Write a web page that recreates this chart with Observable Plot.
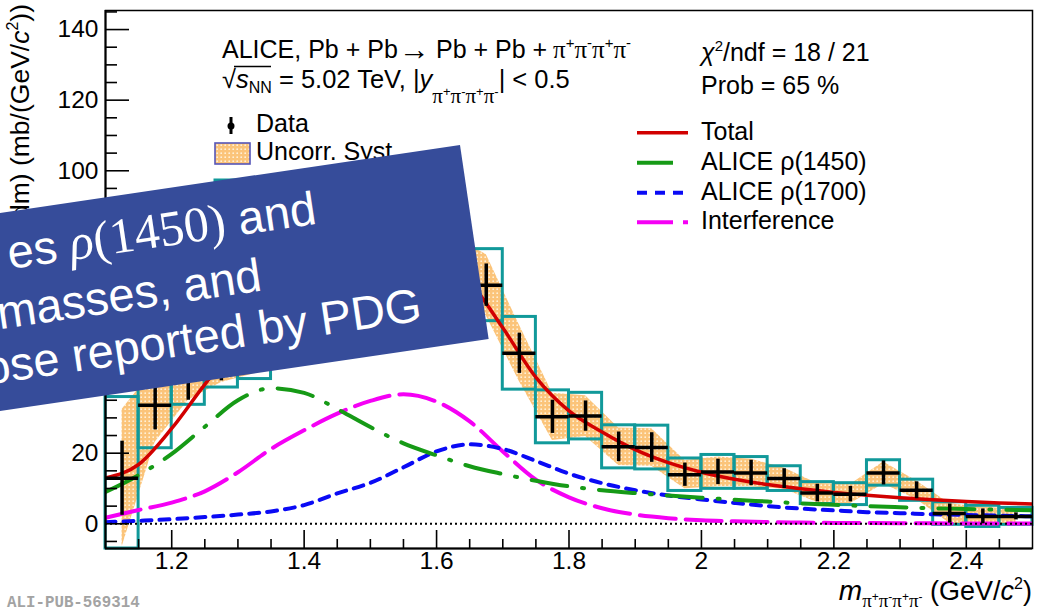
<!DOCTYPE html>
<html>
<head>
<meta charset="utf-8">
<script src="https://cdn.jsdelivr.net/npm/d3@7"></script>
<script src="https://cdn.jsdelivr.net/npm/@observablehq/plot@0.6"></script>
<style>
  html, body { margin: 0; padding: 0; background: #fff; overflow: hidden; }
  #chart { width: 1043px; height: 612px; }
</style>
</head>
<body>
<div id="chart"></div>
<script>
// Measured spectrum: bin centres (GeV/c^2), bins are 0.05 wide
const massBins = [1.125, 1.175, 1.225, 1.275, 1.325, 1.375, 1.425, 1.475, 1.525, 1.575,
                  1.625, 1.675, 1.725, 1.775, 1.825, 1.875, 1.925, 1.975, 2.025, 2.075,
                  2.125, 2.175, 2.225, 2.275, 2.325, 2.375, 2.425, 2.475];
const crossSection = [12.9, 33.6, 42, 47, 51, 63, 70, 73, 75, 76,
                      72, 67.6, 48.3, 30.3, 30.5, 21.8, 21.6, 13.9, 14.7, 14.4,
                      12.8, 8.7, 8.4, 14.4, 9.5, 2.9, 2.1, 2.1];
const statError = [10.5, 7, 7, 6.5, 6.5, 7, 7, 7, 7, 7,
                   7, 6, 5.7, 4.7, 4.3, 4.2, 4.2, 3.3, 3.6, 3.6,
                   2.8, 2.5, 2.2, 3.4, 2.4, 2.7, 2.1, 1.0];
const uncorrSyst = [19.5, 10.5, 7, 7, 8.5, 8.5, 9, 9.3, 9.7, 9.7,
                    9.3, 8.7, 8, 6.7, 5.8, 5.3, 5.3, 4, 4.2, 3.9,
                    3, 2.7, 2.7, 3.1, 2.6, 2.8, 2.6, 2];
const totalSyst = [23, 12.2, 8.3, 8.4, 10, 10, 10.5, 11, 11.5, 11.5,
                   11, 10.2, 10.3, 7.5, 6.6, 6.1, 6.2, 4.6, 4.8, 4.5,
                   3.5, 3.1, 3.1, 3.6, 3.0, 3.2, 3.0, 2.4];

// Fit components sampled along the mass axis
const fitMass = [1.10, 1.15, 1.20, 1.25, 1.30, 1.35, 1.40, 1.45, 1.50, 1.55,
                 1.60, 1.65, 1.70, 1.75, 1.80, 1.85, 1.90, 1.95, 2.00, 2.05,
                 2.10, 2.15, 2.20, 2.25, 2.30, 2.35, 2.40, 2.45, 2.50];
const fitTotal = [13, 16.8, 27, 39.5, 51, 62, 68, 72, 74, 76,
                  75, 68.5, 55.5, 41.5, 32, 26, 21, 17.3, 14.6, 12.6,
                  11.1, 9.9, 8.9, 8.1, 7.4, 6.8, 6.3, 5.9, 5.6];
const fitRho1450 = [9.0, 13.8, 19.8, 27.5, 35, 38.4, 37.1, 32.5, 27.4, 22.8,
                    19.4, 16.3, 14.1, 12.2, 10.6, 9.5, 8.7, 8.0, 7.4, 6.8,
                    6.3, 5.8, 5.4, 5.0, 4.7, 4.4, 4.2, 4.0, 3.8];
const fitRho1700 = [0.45, 0.85, 1.3, 1.9, 2.6, 3.5, 5.3, 8.6, 11.6, 16,
                    20.5, 22.5, 21.2, 17.8, 14.2, 11.5, 9.5, 8.0, 6.9, 5.9,
                    5.0, 4.3, 3.8, 3.3, 3.0, 2.7, 2.5, 2.3, 2.1];
const fitInterference = [1.7, 3.9, 6.0, 9.2, 14.6, 21.2, 26.5, 31.2, 34.8, 36.7,
                         34.6, 29, 20.5, 12.5, 7.5, 4.4, 2.6, 1.6, 1.0, 0.7,
                         0.5, 0.35, 0.25, 0.2, 0.15, 0.12, 0.1, 0.08, 0.06];

// Axis ticks
const yMajorTicks = [0, 20, 40, 60, 80, 100, 120, 140];
const yMinorTicks = [-5, 5, 10, 15, 25, 30, 35, 45, 50, 55, 65, 70, 75, 85, 90, 95,
                     105, 110, 115, 125, 130, 135, 145];
const xMajorTicks = [1.2, 1.4, 1.6, 1.8, 2.0, 2.2, 2.4];
const xMinorTicks = [1.15, 1.25, 1.3, 1.35, 1.45, 1.5, 1.55, 1.65, 1.7, 1.75, 1.85, 1.9, 1.95,
                     2.05, 2.1, 2.15, 2.25, 2.3, 2.35, 2.45];
const xTickText = ["1.2", "1.4", "1.6", "1.8", "2", "2.2", "2.4"];

const BIN_HALF = 0.025;
const X_DOMAIN = [1.1, 2.5];
const Y_DOMAIN = [-7, 145.4];

const W = 1043, H = 612;
const M = {left: 105, right: 11, top: 10, bottom: 64};
const frameW = W - M.left - M.right;
const frameH = H - M.top - M.bottom;

const TEAL = "#11999a";
const RED = "#d10000";
const GREEN = "#169a16";
const BLUE = "#0a0af5";
const MAGENTA = "#f500f5";
const FONT = "'Liberation Sans', Arial, Helvetica, sans-serif";
const SERIF = "'Liberation Serif', 'Times New Roman', serif";

const bins = massBins.map((m, i) => ({
  m, v: crossSection[i], stat: statError[i], unc: uncorrSyst[i], syst: totalSyst[i]
}));
const fit = fitMass.map((m, i) => ({
  m, total: fitTotal[i], r1450: fitRho1450[i], r1700: fitRho1700[i], intf: fitInterference[i]
}));

const chart = Plot.plot({
  width: W, height: H,
  marginLeft: M.left, marginRight: M.right, marginTop: M.top, marginBottom: M.bottom,
  style: {fontFamily: FONT, background: "white", color: "black"},
  x: {domain: X_DOMAIN, axis: null},
  y: {domain: Y_DOMAIN, axis: null},
  marks: [
    // uncorrelated systematic band
    Plot.areaY(bins, {x: "m", y1: d => d.v - d.unc, y2: d => d.v + d.unc,
      fill: "url(#uncorrDots)", curve: "linear", clip: true}),
    // total systematic boxes
    Plot.rect(bins, {x1: d => d.m - BIN_HALF, x2: d => d.m + BIN_HALF,
      y1: d => Math.max(d.v - d.syst, Y_DOMAIN[0]), y2: d => d.v + d.syst,
      fill: "none", stroke: TEAL, strokeWidth: 3}),
    // fit components
    Plot.line(fit, {x: "m", y: "intf", stroke: MAGENTA, strokeWidth: 4,
      strokeDasharray: "36,10", curve: "monotone-x", clip: true}),
    Plot.line(fit, {x: "m", y: "r1700", stroke: BLUE, strokeWidth: 4,
      strokeDasharray: "10,8", curve: "monotone-x", clip: true}),
    Plot.line(fit, {x: "m", y: "r1450", stroke: GREEN, strokeWidth: 4,
      strokeDasharray: "36,15,2,15", curve: "monotone-x", clip: true}),
    Plot.line(fit, {x: "m", y: "total", stroke: RED, strokeWidth: 3.5,
      curve: "monotone-x", clip: true}),
    // zero line
    Plot.ruleY([0], {stroke: "black", strokeWidth: 2, strokeDasharray: "2,3"}),
    // data points with statistical errors
    Plot.ruleX(bins, {x: "m", y1: d => d.v - d.stat, y2: d => d.v + d.stat,
      stroke: "black", strokeWidth: 3.5}),
    Plot.ruleY(bins, {y: "v", x1: d => d.m - BIN_HALF, x2: d => d.m + BIN_HALF,
      stroke: "black", strokeWidth: 3.5}),
    // frame and axes
    Plot.frame({stroke: "black", strokeWidth: 1.5}),
    Plot.ruleX([X_DOMAIN[0]], {stroke: "black", strokeWidth: 2}),
    Plot.ruleY([Y_DOMAIN[0]], {stroke: "black", strokeWidth: 2}),
    Plot.ruleY(yMajorTicks, {y: d => d, insetRight: frameW - 24, stroke: "black", strokeWidth: 1.6}),
    Plot.ruleY(yMinorTicks, {y: d => d, insetRight: frameW - 12, stroke: "black", strokeWidth: 1.6}),
    Plot.ruleX(xMajorTicks, {x: d => d, insetTop: frameH - 18, stroke: "black", strokeWidth: 1.6}),
    Plot.ruleX(xMinorTicks, {x: d => d, insetTop: frameH - 9, stroke: "black", strokeWidth: 1.6}),
    Plot.text(yMajorTicks, {y: d => d, text: d => String(d), frameAnchor: "left",
      textAnchor: "end", dx: -7, fontSize: 24.5, fill: "black"}),
    Plot.text(xMajorTicks, {x: d => d, text: (d, i) => xTickText[i], frameAnchor: "bottom",
      dy: 20, fontSize: 24.5, fill: "black"})
  ]
});

document.getElementById("chart").appendChild(chart);

const svg = d3.select(chart);

// dotted orange fill used for the uncorrelated systematics
const defs = svg.insert("defs", ":first-child");
const pat = defs.append("pattern").attr("id", "uncorrDots")
  .attr("patternUnits", "userSpaceOnUse").attr("width", 4).attr("height", 4);
pat.append("rect").attr("width", 4).attr("height", 4).attr("fill", "#fbc47a");
pat.append("circle").attr("cx", 1.2).attr("cy", 1.2).attr("r", 0.9).attr("fill", "#fff1da");

// text with sub/superscripts: parts carry a baseline shift in px and an optional fixed x
function rich(x, y, parts, opts = {}) {
  const t = svg.append("text").attr("x", x).attr("y", y)
    .attr("font-family", opts.family || FONT).attr("font-size", opts.size || 25)
    .attr("fill", opts.fill || "black")
    .attr("text-anchor", opts.anchor || "start");
  if (opts.transform) t.attr("transform", opts.transform);
  let cur = 0;
  for (const p of parts) {
    const s = t.append("tspan").text(p.t);
    const shift = p.shift || 0;
    if (shift !== cur) { s.attr("dy", shift - cur); cur = shift; }
    if (p.x != null) s.attr("x", p.x);
    if (p.size) s.attr("font-size", p.size);
    if (p.italic) s.attr("font-style", "italic");
    if (p.family) s.attr("font-family", p.family);
  }
  return t;
}

const pi = (size, supSize, base, supShift, sign) => [
  {t: "π", family: SERIF, size, shift: base},
  {t: sign, size: supSize, shift: supShift}
];

// process label
rich(222, 58, [
  {t: "ALICE, Pb + Pb"}, {t: "→", size: 31, shift: 2, x: 399}, {t: "Pb + Pb +", shift: 0, x: 436},
  {t: "π", family: SERIF, size: 25, x: 553}, {t: "+", size: 15, shift: -10},
  ...pi(25, 15, 0, -10, "-"), ...pi(25, 15, 0, -10, "+"), ...pi(25, 15, 0, -10, "-")
]);
rich(222, 88, [
  {t: "√"}, {t: "s", italic: true}, {t: "NN", size: 16, shift: 5},
  {t: " = 5.02 TeV, |", shift: 0}, {t: "y", italic: true},
  ...pi(21, 13, 15, 8, "+"), ...pi(21, 13, 15, 8, "-"),
  ...pi(21, 13, 15, 8, "+"), ...pi(21, 13, 15, 8, "-"),
  {t: "| < 0.5", shift: 0}
], {size: 25.5});
svg.append("line").attr("x1", 234).attr("x2", 271).attr("y1", 66.5).attr("y2", 66.5)
  .attr("stroke", "black").attr("stroke-width", 1.4);

// fit quality
rich(701, 61, [{t: "χ", italic: true}, {t: "2", size: 15, shift: -10}, {t: "/ndf = 18 / 21", shift: 0}]);
rich(701, 94, [{t: "Prob = 65 %"}]);

// legend: data and systematics
svg.append("line").attr("x1", 231).attr("x2", 231).attr("y1", 117).attr("y2", 134)
  .attr("stroke", "black").attr("stroke-width", 3);
svg.append("circle").attr("cx", 231).attr("cy", 126).attr("r", 3.5).attr("fill", "black");
rich(256, 132, [{t: "Data"}]);
svg.append("rect").attr("x", 215).attr("y", 143).attr("width", 35).attr("height", 21)
  .attr("fill", "url(#uncorrDots)").attr("stroke", "#5656b8").attr("stroke-width", 1.6);
rich(256, 160, [{t: "Uncorr. Syst."}]);
svg.append("rect").attr("x", 215).attr("y", 180).attr("width", 35).attr("height", 21)
  .attr("fill", "none").attr("stroke", TEAL).attr("stroke-width", 3);
rich(256, 195, [{t: "Total Syst."}]);

// legend: fit components
const legendRows = [
  {label: "Total", color: RED, dash: null, width: 3.5, y: 132.7},
  {label: "ALICE ρ(1450)", color: GREEN, dash: "36,15,2,15", width: 4, y: 162.7},
  {label: "ALICE ρ(1700)", color: BLUE, dash: "10,8", width: 4, y: 192.7},
  {label: "Interference", color: MAGENTA, dash: "36,10", width: 4, y: 222.3}
];
for (const r of legendRows) {
  const l = svg.append("line").attr("x1", 637).attr("x2", 688).attr("y1", r.y).attr("y2", r.y)
    .attr("stroke", r.color).attr("stroke-width", r.width);
  if (r.dash) l.attr("stroke-dasharray", r.dash);
  rich(701, r.y + 7, [{t: r.label}]);
}

// axis titles
rich(0, 0, [
  {t: "d"}, {t: "2", size: 16, shift: -11}, {t: "σ/(d", shift: 0}, {t: "y", italic: true},
  {t: " dm) (mb/(GeV/"}, {t: "c", italic: true}, {t: "2", size: 16, shift: -11}, {t: "))", shift: 0}
], {size: 26.5, anchor: "end", transform: "translate(29,4) rotate(-90)"});

rich(1032, 600, [
  {t: "m", italic: true, size: 28},
  {t: "π", family: SERIF, size: 19, shift: 7}, {t: "+", size: 12, shift: 1},
  ...pi(19, 12, 7, 1, "-"), ...pi(19, 12, 7, 1, "+"), ...pi(19, 12, 7, 1, "-"),
  {t: " (GeV/", shift: 0}, {t: "c", italic: true}, {t: "2", size: 16, shift: -11}, {t: ")", shift: 0}
], {size: 27, anchor: "end"});

svg.append("text").attr("x", 7).attr("y", 607).attr("text-anchor", "start")
  .attr("font-family", "'Liberation Mono', 'DejaVu Sans Mono', monospace")
  .attr("font-weight", "bold").attr("font-size", 15.8).attr("fill", "#a3a3a3")
  .text("ALI-PUB-569314");

// slide callout laid over the plot
const callout = svg.append("g").attr("transform", "translate(460,145) rotate(-8.4)");
callout.append("rect").attr("x", -800).attr("y", 0).attr("width", 800).attr("height", 196)
  .attr("fill", "#364c9a");
const line1 = callout.append("text").attr("x", -152).attr("y", 57).attr("text-anchor", "end")
  .attr("fill", "white").attr("font-family", FONT).attr("font-size", 47);
line1.append("tspan").text("es ");
line1.append("tspan").attr("font-family", SERIF).attr("font-style", "italic").attr("font-size", 50).text("ρ");
line1.append("tspan").attr("font-family", SERIF).attr("font-size", 50).text("(1450)");
line1.append("tspan").text(" and");
callout.append("text").attr("x", -216).attr("y", 115).attr("text-anchor", "end")
  .attr("fill", "white").attr("font-family", FONT).attr("font-size", 47).text("masses, and");
callout.append("text").attr("x", -62).attr("y", 168).attr("text-anchor", "end")
  .attr("fill", "white").attr("font-family", FONT).attr("font-size", 47).text("ose reported by PDG");
</script>
</body>
</html>
